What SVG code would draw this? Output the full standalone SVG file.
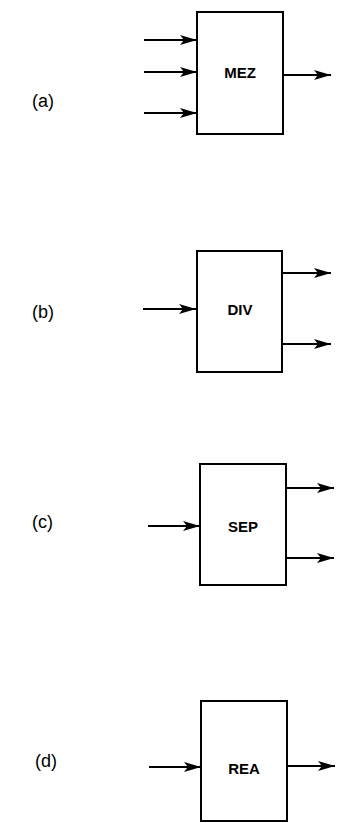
<svg xmlns="http://www.w3.org/2000/svg" width="337" height="823" viewBox="0 0 337 823">
<defs>
<marker id="ah" markerUnits="userSpaceOnUse" markerWidth="18" markerHeight="12" refX="17" refY="6" orient="auto">
<path d="M0,1 L17,6 L0,11 L4,6 Z" fill="#000"/>
</marker>
</defs>
<style>
.box{fill:#fff;stroke:#000;stroke-width:2}
.lbl{font-family:"Liberation Sans",Arial,sans-serif;font-weight:bold;font-size:15px;text-anchor:middle;dominant-baseline:central;fill:#000}
.tag{font-family:"Liberation Sans",Arial,sans-serif;font-size:18px;fill:#000}
.c{stroke:#000;stroke-width:1.8;fill:none;marker-end:url(#ah)}
</style>
<rect width="337" height="823" fill="#fff"/>
<text class="tag" x="32" y="107">(a)</text>
<text class="tag" x="32" y="318">(b)</text>
<text class="tag" x="32" y="528">(c)</text>
<text class="tag" x="35" y="767">(d)</text>
<g id="connectors">
<line class="c" x1="144" y1="40" x2="197" y2="40"/>
<line class="c" x1="144" y1="72" x2="197" y2="72"/>
<line class="c" x1="144" y1="113" x2="197" y2="113"/>
<line class="c" x1="283" y1="75" x2="331" y2="75"/>
<line class="c" x1="143" y1="309" x2="196" y2="309"/>
<line class="c" x1="282" y1="273" x2="331" y2="273"/>
<line class="c" x1="282" y1="344" x2="331" y2="344"/>
<line class="c" x1="148" y1="526" x2="200" y2="526"/>
<line class="c" x1="286" y1="488" x2="334" y2="488"/>
<line class="c" x1="286" y1="558" x2="334" y2="558"/>
<line class="c" x1="149" y1="767" x2="201" y2="767"/>
<line class="c" x1="287" y1="766" x2="335" y2="766"/>
</g>
<g id="MEZ"><rect class="box" x="197" y="12" width="86" height="122"/><text class="lbl" x="240" y="72">MEZ</text></g>
<g id="DIV"><rect class="box" x="197" y="251" width="85" height="121"/><text class="lbl" x="240" y="309">DIV</text></g>
<g id="SEP"><rect class="box" x="200" y="464" width="86" height="121"/><text class="lbl" x="243" y="526">SEP</text></g>
<g id="REA"><rect class="box" x="201" y="701" width="86" height="120"/><text class="lbl" x="244" y="768">REA</text></g>
</svg>
